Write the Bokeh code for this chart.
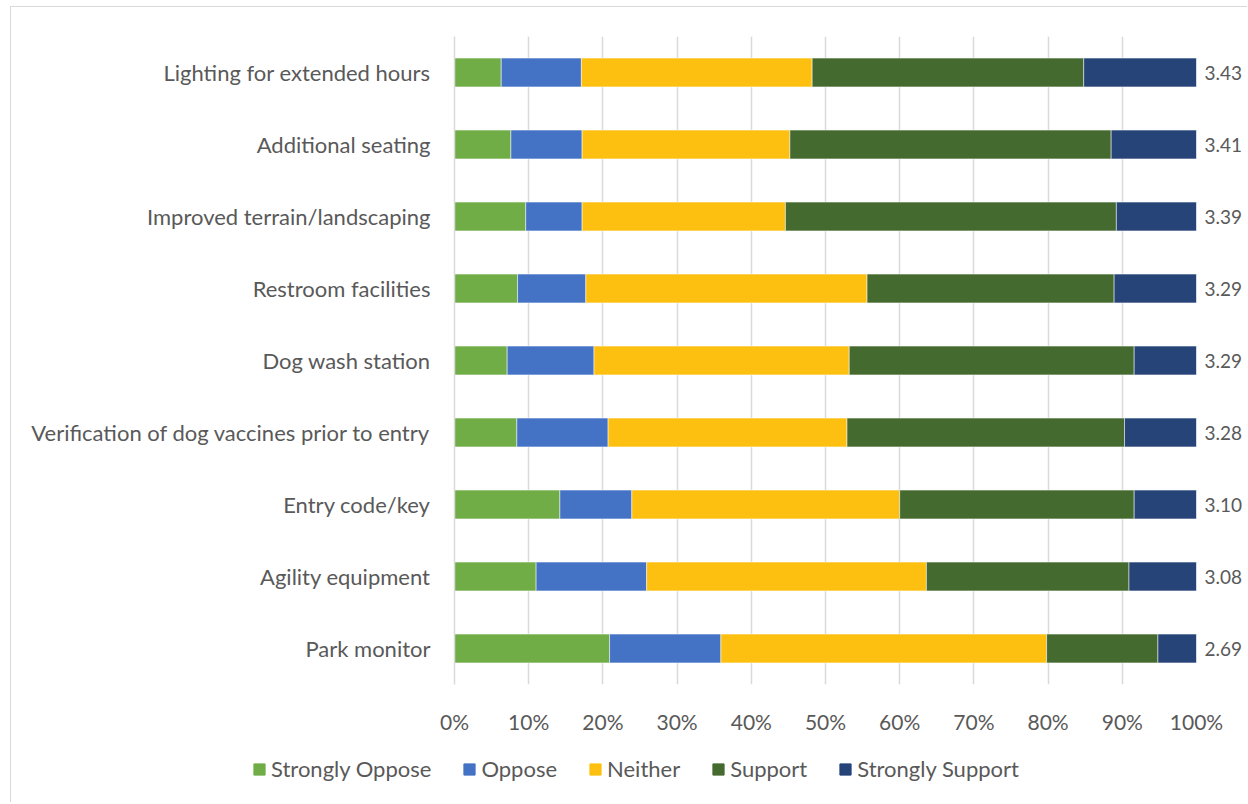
from bokeh.plotting import figure
from bokeh.layouts import column
from bokeh.models import (ColumnDataSource, FactorRange, Range1d, FixedTicker,
                          PrintfTickFormatter, CategoricalAxis, Legend, LegendItem,
                          CustomJSTickFormatter)
from bokeh.embed import file_html
from bokeh.resources import INLINE

categories = ["Lighting for extended hours", "Additional seating",
              "Improved terrain/landscaping", "Restroom facilities",
              "Dog wash station", "Verification of dog vaccines prior to entry",
              "Entry code/key", "Agility equipment", "Park monitor"]
strongly_oppose = [6.3, 7.6, 9.6, 8.5, 7.1, 8.4, 14.2, 11.0, 20.9]
oppose = [10.8, 9.6, 7.6, 9.2, 11.7, 12.3, 9.7, 14.9, 15.0]
neither = [31.1, 28.0, 27.4, 37.9, 34.4, 32.2, 36.1, 37.7, 43.9]
support = [36.6, 43.3, 44.6, 33.3, 38.4, 37.4, 31.6, 27.3, 15.0]
strongly_support = [15.2, 11.5, 10.8, 11.1, 8.4, 9.7, 8.4, 9.1, 5.2]
mean_scores = ["3.43", "3.41", "3.39", "3.29", "3.29", "3.28", "3.10", "3.08", "2.69"]
series_names = ["Strongly Oppose", "Oppose", "Neither", "Support", "Strongly Support"]
x_ticks = [0, 10, 20, 30, 40, 50, 60, 70, 80, 90, 100]

colors = ["#70AD47", "#4472C4", "#FDC010", "#456A30", "#264478"]
FONT = "Lato"
TXT = "#595959"

keys = ["so", "o", "n", "s", "ss"]
source = ColumnDataSource(dict(cat=categories, so=strongly_oppose, o=oppose,
                               n=neither, s=support, ss=strongly_support))

p = figure(width=1236, height=737, output_backend="svg", toolbar_location=None,
           y_range=FactorRange(*list(reversed(categories)), range_padding=0),
           x_range=Range1d(0, 100),
           min_border_left=443, min_border_right=51, min_border_top=29,
           min_border_bottom=60)
p.outline_line_color = None

p.hbar_stack(keys, y="cat", height=0.4, color=colors, source=source,
             line_color="white", line_width=0.5)

# x axis
p.xaxis.ticker = FixedTicker(ticks=x_ticks)
p.xaxis.formatter = PrintfTickFormatter(format="%d%%")
p.xaxis.axis_line_color = None
p.xaxis.major_tick_line_color = None
p.xaxis.minor_tick_line_color = None
p.xaxis.major_label_standoff = 18
p.xaxis.major_label_text_font = FONT
p.xaxis.major_label_text_font_size = "21px"
p.xaxis.major_label_text_color = TXT

# y axis
p.yaxis.axis_line_color = "#d9d9d9"
p.yaxis.axis_line_width = 1.5
p.yaxis.major_tick_line_color = None
p.yaxis.major_tick_out = 0
p.yaxis.major_label_standoff = 24
p.yaxis.major_label_text_font = FONT
p.yaxis.major_label_text_font_size = "22px"
p.yaxis.major_label_text_color = TXT

# right axis with mean scores
mean_fmt = CustomJSTickFormatter(args=dict(cats=categories, means=mean_scores),
                                 code="return means[cats.indexOf(tick)];")
right = CategoricalAxis(axis_line_color=None, major_tick_line_color=None,
                        major_tick_out=0, major_label_standoff=8,
                        major_label_text_font=FONT, major_label_text_font_size="19px",
                        major_label_text_color=TXT, formatter=mean_fmt)
p.add_layout(right, "right")

p.xgrid.grid_line_color = "#d9d9d9"
p.xgrid.grid_line_width = 1.5
p.xgrid.ticker = FixedTicker(ticks=x_ticks)
p.ygrid.grid_line_color = None

# legend strip below the chart
leg = figure(width=1236, height=58, output_backend="svg", toolbar_location=None,
             y_range=FactorRange(*categories), x_range=Range1d(-1000, -900),
             x_axis_location=None, y_axis_location=None, min_border=0)
leg.frame_align = False
leg.outline_line_color = None
leg.grid.grid_line_color = None
leg_renderers = leg.hbar_stack(keys, y="cat", height=0.4, color=colors, source=source)
items = [LegendItem(label=n, renderers=[r]) for n, r in zip(series_names, leg_renderers)]
legend = Legend(items=items, orientation="horizontal", location=(241, 20),
                glyph_width=14, glyph_height=14, label_standoff=5, spacing=31,
                padding=0, margin=0, border_line_color=None, background_fill_alpha=0,
                label_text_font=FONT, label_text_font_size="22px",
                label_text_color=TXT, label_height=20)
leg.add_layout(legend, "center")

layout = column(p, leg, spacing=0)
layout.styles = {"border-top": "1px solid #d9d9d9", "border-left": "1px solid #d9d9d9",
                 "margin-left": "10px", "margin-top": "6px"}

open("out.html", "w").write(file_html(layout, INLINE))
